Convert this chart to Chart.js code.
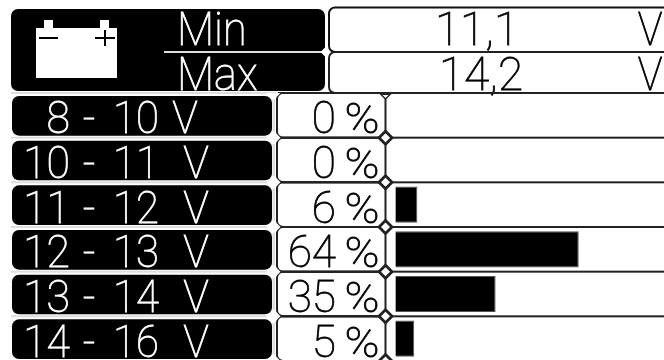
<!DOCTYPE html>
<html>
<head>
<meta charset="utf-8">
<script src="https://cdn.jsdelivr.net/npm/chart.js@4"></script>
<style>
  html, body { margin: 0; padding: 0; background: #fff; overflow: hidden; width: 664px; height: 360px; }
  #wrap { width: 664px; height: 362px; }
  canvas { filter: blur(0.4px); }
</style>
</head>
<body>
<div id="wrap"><canvas id="chart"></canvas></div>
<script>
const categories = ["8 - 10 V", "10 - 11 V", "11 - 12 V", "12 - 13 V", "13 - 14 V", "14 - 16 V"];
const percentLabels = [0, 0, 6, 64, 35, 5];
const barValues = [0, 0, 7.7, 64, 35, 6.6]; // bar lengths as drawn, small ones are longer than the label says
const summaryLabels = ["Min", "Max"];
const summaryValues = ["11,1", "14,2"];
const unit = "V";
const FONT = "Roboto";

function text(ctx, str, x, y, size, color, align, sx) {
  ctx.save();
  ctx.translate(x, y);
  ctx.scale(sx, 1);
  ctx.font = "100 " + size + "px " + FONT;
  ctx.fillStyle = color;
  ctx.strokeStyle = color;
  ctx.lineWidth = 0.8;
  ctx.textAlign = align;
  ctx.textBaseline = "alphabetic";
  ctx.fillText(str, 0, 0);
  ctx.strokeText(str, 0, 0);
  ctx.restore();
}

function hline(ctx, x1, x2, y, color, w) {
  ctx.fillStyle = color;
  ctx.fillRect(x1, y - w / 2, x2 - x1, w);
}

function diamond(ctx, x, y, r, color) {
  ctx.fillStyle = color;
  ctx.beginPath();
  ctx.moveTo(x - r, y);
  ctx.lineTo(x, y - r);
  ctx.lineTo(x + r, y);
  ctx.lineTo(x, y + r);
  ctx.closePath();
  ctx.fill();
}

// downward notch hanging from a line
function notch(ctx, x, y, r, color) {
  ctx.fillStyle = color;
  ctx.beginPath();
  ctx.moveTo(x - r, y);
  ctx.lineTo(x + r, y);
  ctx.lineTo(x, y + r);
  ctx.closePath();
  ctx.fill();
}

function panel(ctx, x, y, w, h, r, color) {
  ctx.fillStyle = color;
  ctx.beginPath();
  ctx.roundRect(x, y, w, h, r);
  ctx.fill();
}

function cell(ctx, x, y, w, h, r, color) {
  ctx.strokeStyle = color;
  ctx.lineWidth = 2;
  ctx.beginPath();
  ctx.roundRect(x, y, w, h, r);
  ctx.stroke();
}

// everything around the bars: black panels, cells, separators, texts
const tablePlugin = {
  id: "tablePlugin",
  beforeDatasetsDraw(chart) {
    const ctx = chart.ctx;
    const y = chart.scales.y;
    const W = chart.width;
    const rowH = y.getPixelForTick(1) - y.getPixelForTick(0);
    const top = y.getPixelForTick(0) - rowH / 2;

    // header
    panel(ctx, 11, 9, 314, 82, 7, "#000");
    cell(ctx, 329, 7.5, W, 44.5, 6, "#111");
    cell(ctx, 329, 52, W, 41, 6, "#222");
    hline(ctx, 164, 325, 52, "#ddd", 2);
    diamond(ctx, 325.5, 52, 5, "#fff");
    hline(ctx, 11, 278, top, "#ddd", 2);

    // battery icon
    ctx.fillStyle = "#fff";
    ctx.fillRect(36, 28, 81, 50);
    ctx.fillRect(44, 20, 9, 9);
    ctx.fillRect(100, 20, 9, 9);
    ctx.fillStyle = "#000";
    ctx.fillRect(39, 37, 19, 2);
    ctx.fillRect(95, 37, 20, 2);
    ctx.fillRect(104, 30, 2, 16);

    summaryLabels.forEach((s, i) => {
      const base = i === 0 ? 45 : 89.5;
      text(ctx, s, 177, base, 46, "#fff", "left", 0.94);
      text(ctx, summaryValues[i], i === 0 ? 477 : 481, base, 46, "#000", "center", 1);
      text(ctx, unit, 650, base, 46, "#000", "center", 0.9);
    });

    // rows
    categories.forEach((c, i) => {
      const t = top + i * rowH;
      const b = t + rowH;
      const parts = c.split(" ");
      panel(ctx, 12, t + 3, 260, rowH - 5, 7, "#000");
      cell(ctx, 277, t, 112, rowH, 6, "#222");
      const base = b - 4.5;
      text(ctx, parts[0], 70, base, 45, "#fff", "right", 0.95);
      text(ctx, parts[1], 89, base, 45, "#fff", "center", 0.95);
      text(ctx, parts[2], 113, base, 45, "#fff", "left", 0.93);
      text(ctx, parts[3], i === 0 ? 185 : 196, base, 45, "#fff", "center", 0.95);
      text(ctx, String(percentLabels[i]), 336, base, 45, "#000", "right", 0.98);
      text(ctx, "%", 362, base, 42, "#000", "center", 1.12);
      ctx.fillStyle = "#fff";
      ctx.fillRect(387, t + 1, 10, rowH - 2);
      ctx.fillStyle = "#ddd";
      ctx.fillRect(272.5, t, 2.5, rowH);
      ctx.fillStyle = "#222";
      ctx.fillRect(384.5, t, 2, rowH);
    });

    // separators and junctions
    hline(ctx, 278, W, top, "#222", 2);
    for (let i = 1; i <= categories.length; i++) {
      const sy = top + i * rowH;
      if (i < categories.length) {
        hline(ctx, 11, 273, sy, "#ddd", 2);
        hline(ctx, 278, W, sy, "#222", 2);
      }
      diamond(ctx, 273.5, sy, 7, "#fff");
      diamond(ctx, 385.5, sy, 8.5, "#222");
      diamond(ctx, 385.5, sy, 4.5, "#fff");
    }
    // notches under the header line
    notch(ctx, 273.5, top, 7, "#fff");
    notch(ctx, 385.5, top, 7, "#222");
    notch(ctx, 385.5, top + 2, 3, "#fff");
  }
};

new Chart(document.getElementById("chart"), {
  type: "bar",
  data: {
    labels: categories,
    datasets: [{
      data: barValues,
      backgroundColor: "#000",
      borderColor: "#555",
      borderWidth: 1,
      barPercentage: 0.81,
      categoryPercentage: 1,
    }],
  },
  options: {
    indexAxis: "y",
    responsive: true,
    maintainAspectRatio: false,
    animation: false,
    layout: { padding: { left: 395.3, top: 93, bottom: 1, right: 0 } },
    scales: {
      x: { display: false, min: 0, max: 93.75 },
      y: { display: false },
    },
    plugins: {
      legend: { display: false },
      tooltip: { enabled: false },
    },
  },
  plugins: [tablePlugin],
});
</script>
</body>
</html>
